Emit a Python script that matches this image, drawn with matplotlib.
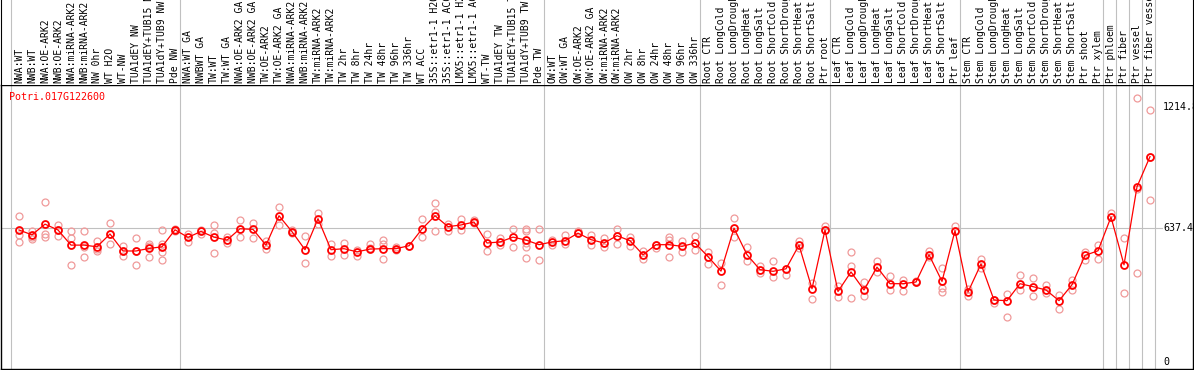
import matplotlib
matplotlib.use("Agg")
from matplotlib import pyplot as plt

gene = "Potri.017G122600"

labels = [
    "NWA:WT", "NWB:WT", "NWA:OE-ARK2", "NWB:OE-ARK2", "NWA:miRNA-ARK2",
    "NWB:miRNA-ARK2", "NW 0hr", "WT H2O", "WT-NW", "TUA1dEY NW",
    "TUA1dEY+TUB15 NW", "TUA1dY+TUB9 NW", "Pde NW",
    "NWA:WT GA", "NWBWT GA", "TW:WT", "TW:WT GA", "NWA:OE-ARK2 GA",
    "NWB:OE-ARK2 GA", "TW:OE-ARK2", "TW:OE-ARK2 GA", "NWA:miRNA-ARK2 GA",
    "NWB:miRNA-ARK2 GA", "TW:miRNA-ARK2", "TW:miRNA-ARK2", "TW 2hr", "TW 8hr",
    "TW 24hr", "TW 48hr", "TW 96hr", "TW 336hr", "WT ACC", "35S::etr1-1 H2O",
    "35S::etr1-1 ACC", "LMX5::etr1-1 H2O", "LMX5::etr1-1 ACC", "WT-TW",
    "TUA1dEY TW", "TUA1dEY+TUB15 TW", "TUA1dY+TUB9 TW", "Pde TW",
    "OW:WT", "OW:WT GA", "OW:OE-ARK2", "OW:OE-ARK2 GA", "OW:miRNA-ARK2",
    "OW:miRNA-ARK2", "OW 2hr", "OW 8hr", "OW 24hr", "OW 48hr", "OW 96hr",
    "OW 336hr",
    "Root CTR", "Root LongCold", "Root LongDrought", "Root LongHeat",
    "Root LongSalt", "Root ShortCold", "Root ShortDrought", "Root ShortHeat",
    "Root ShortSalt", "Ptr root",
    "Leaf CTR", "Leaf LongCold", "Leaf LongDrought", "Leaf LongHeat",
    "Leaf LongSalt", "Leaf ShortCold", "Leaf ShortDrought", "Leaf ShortHeat",
    "Leaf ShortSalt", "Ptr leaf",
    "Stem CTR", "Stem LongCold", "Stem LongDrought", "Stem LongHeat",
    "Stem LongSalt", "Stem ShortCold", "Stem ShortDrought", "Stem ShortHeat",
    "Stem ShortSalt", "Ptr shoot", "Ptr xylem",
    "Ptr phloem", "Ptr fiber", "Ptr vessel", "Ptr fiber vessel",
]

means = [
    628, 605, 656, 628, 556, 556, 548, 609, 528, 528, 540, 548, 629,
    593, 621, 594, 580, 634, 631, 556, 696, 620, 534, 682, 534, 539, 524,
    537, 539, 539, 553, 633, 696, 644, 652, 666, 566, 571, 594, 580, 558,
    571, 577, 613, 582, 566, 601, 577, 510, 558, 558, 550, 566,
    501, 432, 637, 510, 439, 431, 443, 556, 348, 628,
    335, 428, 342, 451, 372, 372, 380, 510, 383, 625,
    332, 466, 294, 291, 372, 358, 342, 291, 367, 507, 529,
    690, 462, 834, 978,
]

replicates = [
    [693, 605, 570], [621, 597, 586], [761, 609, 594], [653, 601, 628],
    [625, 590, 462], [625, 545, 499], [574, 537, 529], [663, 561, 609],
    [553, 502, 528], [590, 462, 528], [561, 553, 499], [628, 561, 521, 486],
    [634, 625],
    [609, 570], [628, 609], [653, 613, 518], [594, 566], [676, 593],
    [663, 590], [577, 537], [738, 653], [626, 613], [599, 470], [707, 656],
    [561, 502], [566, 510], [534, 502], [563, 542], [580, 561, 491],
    [531, 545], [553], [680, 594], [757, 712, 625], [656, 621], [680, 626],
    [676, 661], [609, 528], [590, 558], [634, 548],
    [634, 621, 566, 548, 494], [634, 485],
    [582, 558], [605, 561], [625, 613], [605, 555], [590, 545], [633, 563],
    [597, 553], [526, 489], [542, 558], [597, 582, 501], [574, 521],
    [601, 532],
    [521, 467], [470, 367], [687, 594], [548, 482], [455, 423], [482, 405],
    [415, 443], [574, 540], [375, 300], [645, 628],
    [359, 310], [523, 455, 303], [378, 311], [478, 428], [407, 342],
    [391, 335], [385, 380], [526, 500], [447, 351, 332], [645, 625],
    [348, 311], [491, 447], [278, 294], [324, 213], [415, 343], [400, 314],
    [367, 327], [320, 251], [391, 343], [521, 483], [555, 491],
    [709, 690], [588, 326], [1257, 824, 421], [1200, 975, 771],
]

group_starts = [0, 13, 41, 53, 63, 73, 84, 85, 86, 87, 88]
tick_values = [0, 637.4, 1214.8]
tick_labels = ["0", "637.4", "1214.8"]

W, H = 1194, 370
MONO = "DejaVu Sans Mono"
GRID = "#c0c0c0"

fig = plt.figure(figsize=(W / 100, H / 100), dpi=100)
ax = fig.add_axes([1 / W, 1 / H, 1192 / W, 284 / H])
head = fig.add_axes([1 / W, 285 / H, 1192 / W, 85 / H])

# pixel layout: column i sits at x = 19 + 13 * i
xmin, xmax = (1 - 19) / 13, (1193 - 19) / 13
for a in (ax, head):
    a.set_xlim(xmin, xmax)
    a.set_xticks([])
    a.set_yticks([])
    for s in group_starts:
        a.axvline(s - 0.6, color=GRID, lw=0.8, zorder=0)
ax.set_ylim(-34.8, 1319.5)
head.set_ylim(0, 1)

for side in ax.spines.values():
    side.set_color("black")
    side.set_linewidth(1.0)
head.spines["bottom"].set_visible(False)
head.spines["top"].set_visible(False)

# header labels (long ones run off the top, as in the original)
for i, name in enumerate(labels):
    head.text(i, 0.025, name, rotation=90, ha="center", va="bottom",
              fontsize=7, family=MONO, color="black",
              transform=head.get_xaxis_transform())

# reference line and value labels
ax.plot([xmin, 87.9], [tick_values[1]] * 2, color=GRID, lw=0.8, zorder=0)
for v, t in zip(tick_values, tick_labels):
    ax.text(88.0, v, t, ha="left", va="center", fontsize=7.2, family=MONO,
            color="black", clip_on=True)

# replicate points
for i, reps in enumerate(replicates):
    ax.plot([i] * len(reps), reps, "o", mfc="none", mec="#f09a9a",
            ms=5, mew=0.9, zorder=2)

xs = list(range(len(means)))
ax.plot(xs, means, "-", color="#ff0000", lw=0.9, zorder=3)
ax.plot(xs, means, "o", mfc="none", mec="#ff0000", ms=5, mew=1.3, zorder=4)

ax.text(0.007, 0.958, gene, transform=ax.transAxes, ha="left", va="center",
        fontsize=7.2, family=MONO, color="#ff0000")

fig.savefig("out.png", dpi=100)
